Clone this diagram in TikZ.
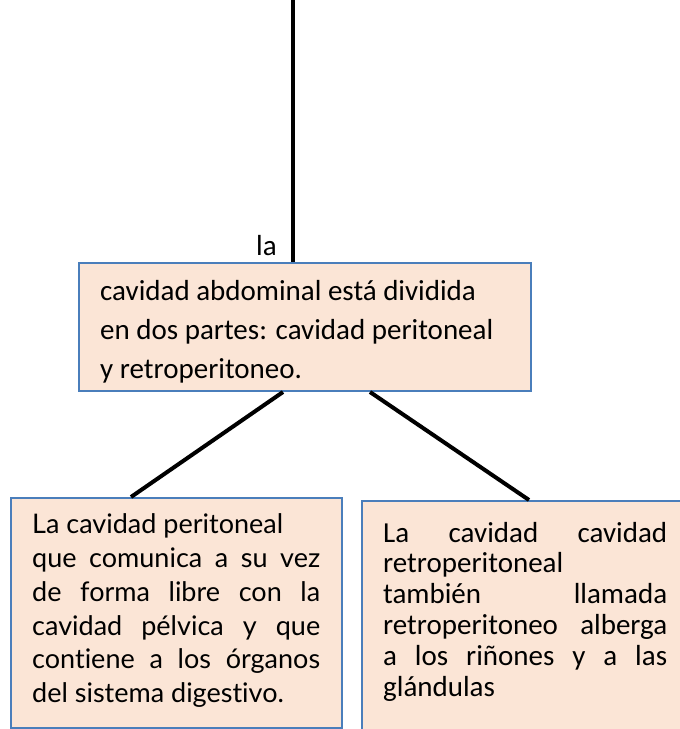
\documentclass[tikz,border=0pt]{standalone}
\usepackage{fontspec}
\setmainfont{Carlito}
\newfontfamily\gillfont[Ligatures=NoCommon]{Lato}
\definecolor{boxblue}{RGB}{74,126,187}
\definecolor{boxfill}{RGB}{251,229,214}
\tikzset{
  box/.style={draw=boxblue, fill=boxfill, line width=2pt, inner sep=0, anchor=north west},
  conn/.style={draw=black, line width=4pt},
  ctxt/.style={inner sep=0, anchor=base west, font=\fontsize{29}{35}\selectfont},
  gtxt/.style={inner sep=0, anchor=base west, font=\gillfont\fontsize{27}{32}\selectfont},
}
\begin{document}
\begin{tikzpicture}[x=1pt,y=-1pt]
\useasboundingbox (0,0) rectangle (680,729);
\clip (0,0) rectangle (680,729);
% boxes
\node[box, minimum width=452pt, minimum height=128pt] (mid) at (78,262) {};
\node[box, minimum width=331pt, minimum height=230pt] (lbox) at (10,497) {};
\node[box, minimum width=340pt, minimum height=260pt] (rbox) at (361,500) {};
% connectors
\coordinate (topend) at (293,0);
\draw[conn] (topend) -- (topend |- mid.north);
\draw[conn] (283,0 |- mid.south) -- (131,0 |- lbox.north);
\draw[conn] (370,0 |- mid.south) -- (529,0 |- rbox.north);
% label
\node[ctxt] (la) at (256,255) {la};
% middle text
\node[ctxt] (m1) at (100,300) {cavidad abdominal está dividida};
\node[ctxt] (m2) at (100,339) {en dos partes: cavidad peritoneal};
\node[ctxt] (m3) at (100,378) {y retroperitoneo.};
% left text
\node[gtxt] (l1) at (32,533) {La cavidad peritoneal};
\node[gtxt] (l2) at (32,567) {\makebox[288pt][s]{que comunica a su vez}};
\node[gtxt] (l3) at (32,601) {\makebox[288pt][s]{de forma libre con la}};
\node[gtxt] (l4) at (32,635) {\makebox[288pt][s]{cavidad pélvica y que}};
\node[gtxt] (l5) at (32,668) {\makebox[288pt][s]{contiene a los órganos}};
\node[gtxt] (l6) at (32,702) {del sistema digestivo.};
% right text
\node[ctxt] (r1) at (383,542) {\makebox[284pt][s]{La cavidad cavidad}};
\node[ctxt] (r2) at (383,572) {retroperitoneal};
\node[ctxt] (r3) at (383,603) {\makebox[284pt][s]{también llamada}};
\node[ctxt] (r4) at (383,634) {\makebox[284pt][s]{retroperitoneo alberga}};
\node[ctxt] (r5) at (383,665) {\makebox[284pt][s]{a los riñones y a las}};
\node[ctxt] (r6) at (383,696) {glándulas};
\end{tikzpicture}
\end{document}
